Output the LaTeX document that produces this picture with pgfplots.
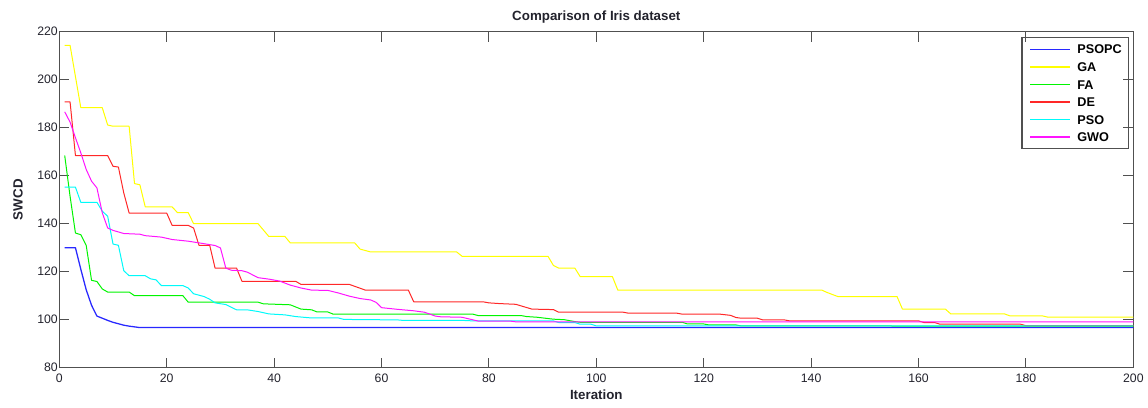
\documentclass[border=0pt]{standalone}
\usepackage{pgfplots}
\pgfplotsset{compat=1.18}
\usepackage{fontspec}
\setmainfont{Liberation Sans}

\definecolor{cPSOPC}{RGB}{40,40,255}
\definecolor{cGA}{RGB}{255,255,0}
\definecolor{cFA}{RGB}{0,245,0}
\definecolor{cDE}{RGB}{255,40,40}
\definecolor{cPSO}{RGB}{0,250,250}
\definecolor{cGWO}{RGB}{255,20,255}
\definecolor{axisgray}{RGB}{80,80,80}
\definecolor{txt}{RGB}{35,35,45}

\begin{document}
\begin{tikzpicture}
\useasboundingbox (-44.5pt,-29.5pt) rectangle (816.5pt,275.75pt);
\begin{axis}[
  at={(0,0)}, anchor=south west,
  scale only axis, width=805.5pt, height=252pt,
  xmin=0, xmax=200, ymin=80, ymax=220,
  xtick={0,20,...,200}, ytick={80,100,...,220},
  tick align=inside, major tick length=7.5pt,
  xtick pos=both, ytick pos=both,
  axis line style={draw=axisgray, line width=0.8pt},
  every tick/.style={draw=axisgray, line width=0.8pt},
  /pgf/number format/assume math mode=true,
  ticklabel style={font=\fontsize{9.2}{11}\selectfont, text=txt},
  xticklabel style={anchor=base, inner sep=0pt, yshift=-11.3pt},
  yticklabel style={anchor=east, inner sep=0pt, xshift=-1pt},
  title={Comparison of Iris dataset},
  title style={at={(axis description cs:0.5,1)}, anchor=base, inner sep=0pt, yshift=2pt,
    font=\bfseries\fontsize{10}{12}\selectfont, text=txt},
  xlabel={Iteration},
  xlabel style={at={(axis description cs:0.5,0)}, anchor=base, inner sep=0pt, yshift=-23.5pt,
    font=\bfseries\fontsize{10}{12}\selectfont, text=txt},
  ylabel={SWCD},
  ylabel style={at={(axis description cs:-0.0385,0.5)}, anchor=center, inner sep=0pt,
    font=\bfseries\fontsize{10}{12}\selectfont, text=txt},
  every axis plot/.append style={line width=0.75pt, line join=round},
]
% PSOPC
\addplot[color=cPSOPC, line width=0.95pt] coordinates {
 (1,130) (3,130) (4,121) (5,112.5) (6,106) (7,101.5) (8,100.6) (9,99.7)
 (10,98.9) (11,98.3) (12,97.7) (13,97.3) (14,97.0) (15,96.7) (200,96.7)};
% GA
\addplot[color=cGA] coordinates {
 (1,214.3) (2,214.3) (4,188.3) (8,188.3) (9,181.1) (10,180.6) (13,180.6)
 (14,156.7) (15,156.2) (16,147) (21,147) (22,144.6) (24,144.6) (25,140)
 (37,140) (39,134.7) (42,134.7) (43,132) (55,132) (56,129.4) (58,128.2)
 (74,128.2) (75,126.4) (91,126.4) (92,122.6) (93,121.5) (96,121.5)
 (97,117.9) (103,117.9) (104,112.3) (142,112.3) (143,111.3) (145,109.6)
 (156,109.6) (157,104.4) (165,104.4) (166,102.4) (176,102.4) (177,101.6)
 (183,101.6) (184,101.1) (200,101.1)};
% FA
\addplot[color=cFA] coordinates {
 (1,168.4) (2,151.4) (3,136.1) (4,135.4) (5,131) (6,116.4) (7,115.9)
 (8,112.8) (9,111.5) (13,111.5) (14,110) (23,110) (24,107.3) (37,107.3)
 (38,106.6) (43,106.2) (45,104.4) (47,104.1) (48,103.2) (50,103.2)
 (51,102.3) (77,102.3) (78,101.7) (86,101.7) (87,101.3) (89,101)
 (92,100.2) (94,100) (96,99.2) (97,98.9) (116,98.9) (117,98.2) (120,98.2)
 (121,97.8) (126,97.8) (127,97.4) (200,97.3)};
% DE
\addplot[color=cDE] coordinates {
 (1,190.7) (2,190.7) (3,168.4) (9,168.4) (10,163.9) (11,163.6) (12,152.8)
 (13,144.4) (20,144.4) (21,139.3) (24,139.3) (25,138.2) (26,131) (28,131)
 (29,121.5) (33,121.5) (34,116) (44,116) (45,114.7) (54,114.7) (55,113.9)
 (57,112.3) (65,112.3) (66,107.4) (79,107.4) (80,107) (82,106.7) (85,106.4)
 (88,104.4) (92,104.2) (93,103.1) (105,103.1) (106,102.7) (115,102.7)
 (116,102.3) (123,102.3) (125,101.8) (126,100.9) (127,100.6) (130,100.6)
 (131,99.9) (135,99.9) (136,99.5) (160,99.5) (161,98.8) (163,98.8)
 (164,98.1) (179,98.1) (180,97.5) (200,97.5)};
% PSO
\addplot[color=cPSO] coordinates {
 (1,155.2) (3,155.2) (4,148.9) (7,148.9) (8,145.2) (9,143.1) (10,131.5)
 (11,131) (12,120.4) (13,118.3) (16,118.3) (17,117) (18,116.6) (19,114.2)
 (23,114.2) (24,113.2) (25,110.8) (26,110.2) (27,109.6) (28,108.5)
 (29,107) (31,106.3) (33,104.1) (35,104.1) (37,103.4) (39,102.4) (42,102)
 (44,101.3) (46,100.9) (47,100.7) (52,100.7) (53,100.1) (63,99.9)
 (64,99.7) (75,99.7) (77,99.5) (92,99.5) (93,98.8) (96,98.8) (97,98.1)
 (99,98.1) (100,97.4) (200,97.4)};
% GWO
\addplot[color=cGWO] coordinates {
 (1,186.6) (2,182.3) (3,175.8) (4,169.5) (5,162.6) (6,157.7) (7,154.9)
 (8,144.5) (9,138.2) (10,137.2) (12,135.9) (15,135.6) (16,135) (19,134.4)
 (21,133.4) (24,132.7) (26,132) (29,130.9) (30,129.9) (31,121.5)
 (32,120.6) (34,120.4) (35,119.8) (37,117.5) (39,116.9) (41,116.1)
 (43,114.4) (45,113.2) (47,112.3) (50,112.2) (52,111.1) (54,109.8)
 (56,108.8) (58,108.2) (59,107.2) (60,105) (63,104.3) (66,103.7)
 (68,103.1) (70,101.5) (71,101.2) (75,101) (78,99.4) (84,99.4) (85,99.1)
 (200,99.1)};

% legend: frame, line samples and names in the upper right corner
\draw[axisgray, line width=0.8pt] (axis cs:179.27,171.25) rectangle (axis cs:199.01,217.5);
\addplot[forget plot, color=cPSOPC, line width=1.1pt] coordinates {(180.82,212.61) (188.27,212.61)};
\addplot[forget plot, color=cGA,    line width=1.1pt] coordinates {(180.82,205.31) (188.27,205.31)};
\addplot[forget plot, color=cFA,    line width=1.1pt] coordinates {(180.82,198.00) (188.27,198.00)};
\addplot[forget plot, color=cDE,    line width=1.1pt] coordinates {(180.82,190.69) (188.27,190.69)};
\addplot[forget plot, color=cPSO,   line width=1.1pt] coordinates {(180.82,183.39) (188.27,183.39)};
\addplot[forget plot, color=cGWO,   line width=1.1pt] coordinates {(180.82,176.08) (188.27,176.08)};
\begin{scope}[every node/.style={anchor=base west, inner sep=0pt,
    font=\bfseries\fontsize{9.5}{11}\selectfont}]
\node at (axis cs:189.53,210.72) {PSOPC};
\node at (axis cs:189.53,203.42) {GA};
\node at (axis cs:189.53,196.11) {FA};
\node at (axis cs:189.53,188.80) {DE};
\node at (axis cs:189.53,181.50) {PSO};
\node at (axis cs:189.53,174.19) {GWO};
\end{scope}
\end{axis}
\end{tikzpicture}
\end{document}
